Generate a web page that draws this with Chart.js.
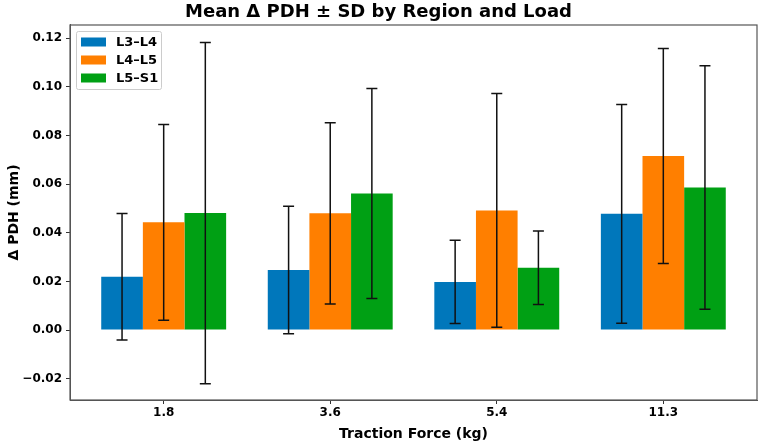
<!DOCTYPE html>
<html>
<head>
<meta charset="utf-8">
<script src="https://cdn.jsdelivr.net/npm/chart.js@4.4.1/dist/chart.umd.min.js"></script>
<style>
  html, body { margin: 0; padding: 0; background: #fff; }
</style>
</head>
<body>
<canvas id="pdhParRegion" width="765" height="443"></canvas>
<script>
// valeurs
const forces = ['1.8', '3.6', '5.4', '11.3'];
const regions = ['L3–L4', 'L4–L5', 'L5–S1'];
const moyL3L4 = [0.0219, 0.0247, 0.0198, 0.0478];
const sdL3L4 = [0.0260, 0.0262, 0.0171, 0.0450];
const moyL4L5 = [0.0443, 0.0480, 0.0492, 0.0716];
const sdL4L5 = [0.0403, 0.0373, 0.0481, 0.0442];
const moyL5S1 = [0.0481, 0.0562, 0.0256, 0.0586];
const sdL5S1 = [0.0702, 0.0432, 0.0151, 0.0501];
const graduationsY = [-0.02, 0, 0.02, 0.04, 0.06, 0.08, 0.10, 0.12];

const couleurs = ['#0077bb', '#ff7f00', '#00a014'];
const police = "'DejaVu Sans', sans-serif";

const serie = (moy, sd, i) => ({
  label: regions[i],
  data: moy.map((v, k) => ({ x: k, y: v })),
  sd,
  backgroundColor: couleurs[i],
  borderWidth: 0,
  categoryPercentage: 0.75,
  barPercentage: 1,
});

// barres d'erreur, cadre et légende
const extras = {
  id: 'extras',
  afterDatasetsDraw(chart) {
    const { ctx, scales: { y } } = chart;
    ctx.save();
    ctx.strokeStyle = '#111';
    ctx.lineWidth = 1.5;
    chart.data.datasets.forEach((ds, i) => {
      chart.getDatasetMeta(i).data.forEach((bar, k) => {
        const m = ds.data[k].y;
        const haut = y.getPixelForValue(m + ds.sd[k]);
        const bas = y.getPixelForValue(m - ds.sd[k]);
        ctx.beginPath();
        ctx.moveTo(bar.x, haut);
        ctx.lineTo(bar.x, bas);
        ctx.moveTo(bar.x - 5.5, haut);
        ctx.lineTo(bar.x + 5.5, haut);
        ctx.moveTo(bar.x - 5.5, bas);
        ctx.lineTo(bar.x + 5.5, bas);
        ctx.stroke();
      });
    });
    ctx.restore();
  },
  afterDraw(chart) {
    const { ctx, chartArea: a } = chart;
    ctx.save();
    ctx.strokeStyle = '#555';
    ctx.lineWidth = 1.2;
    ctx.strokeRect(a.left, a.top, a.right - a.left, a.bottom - a.top);

    // légende en haut à gauche
    const x0 = a.left + 6, y0 = a.top + 6;
    ctx.fillStyle = 'rgba(255,255,255,0.8)';
    ctx.strokeStyle = '#cccccc';
    ctx.lineWidth = 1;
    ctx.beginPath();
    ctx.roundRect(x0 + 0.5, y0 + 0.5, 85, 58, 2);
    ctx.fill();
    ctx.stroke();
    ctx.font = 'bold 13px ' + police;
    ctx.textBaseline = 'middle';
    chart.data.datasets.forEach((ds, i) => {
      const yy = y0 + 11 + i * 18;
      ctx.fillStyle = ds.backgroundColor;
      ctx.fillRect(x0 + 5, yy - 4.5, 25, 9);
      ctx.fillStyle = '#000';
      ctx.fillText(ds.label, x0 + 40, yy + 0.5);
    });
    ctx.restore();
  },
};

const data = {
  datasets: [
    serie(moyL3L4, sdL3L4, 0),
    serie(moyL4L5, sdL4L5, 1),
    serie(moyL5S1, sdL5S1, 2),
  ],
};

const options = {
  responsive: false,
  animation: false,
  layout: { padding: { left: 0, top: 0, right: 8, bottom: 0 } },
  plugins: {
    legend: { display: false },
    tooltip: { enabled: false },
    title: {
      display: true,
      text: 'Mean Δ PDH ± SD by Region and Load',
      color: '#000',
      font: { family: police, size: 18, weight: 'bold' },
      padding: { top: 2, bottom: 1.4 },
    },
  },
  scales: {
    x: {
      type: 'linear',
      offset: false,
      min: -0.5625,
      max: 3.5625,
      afterBuildTicks: (s) => { s.ticks = forces.map((f, k) => ({ value: k })); },
      afterFit: (s) => { s.height = 43; },
      ticks: {
        callback: (v) => forces[v],
        color: '#000',
        padding: 2,
        maxRotation: 0,
        font: { family: police, size: 12, weight: 'bold' },
      },
      grid: { drawOnChartArea: false, offset: false, tickLength: 4, color: '#333' },
      border: { color: '#555' },
      title: {
        display: true,
        text: 'Traction Force (kg)',
        color: '#000',
        font: { family: police, size: 14, weight: 'bold' },
        padding: { top: 4, bottom: 0 },
      },
    },
    y: {
      min: -0.0288,
      max: 0.1255,
      afterBuildTicks: (s) => { s.ticks = graduationsY.map((v) => ({ value: v })); },
      afterFit: (s) => { s.width = 70; },
      ticks: {
        callback: (v) => (Math.abs(v) < 1e-9 ? '0.00' : v.toFixed(2).replace('-', '−')),
        color: '#000',
        padding: 4,
        font: { family: police, size: 12, weight: 'bold' },
      },
      grid: { drawOnChartArea: false, tickLength: 4, color: '#333' },
      border: { color: '#555' },
      title: {
        display: true,
        text: 'Δ PDH (mm)',
        color: '#000',
        font: { family: police, size: 14, weight: 'bold' },
        padding: { top: 6, bottom: 0 },
      },
    },
  },
};

/* eslint-disable no-new */
new Chart(document.getElementById('pdhParRegion'), {
  type: 'bar', data, options, plugins: [extras],
});
/* eslint-enable no-new */
</script>
</body>
</html>
